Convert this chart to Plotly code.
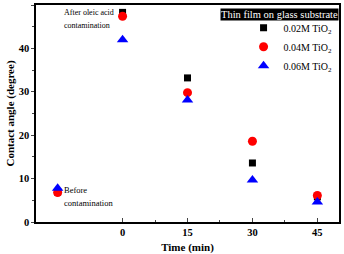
import plotly.graph_objects as go

x_vals = [-15, 0, 15, 30, 45]
s002 = [6.9, 48.3, 33.2, 13.6, 5.8]
s004 = [6.8, 47.4, 29.8, 18.6, 6.1]
s006 = [7.8, 42.0, 28.1, 9.7, 4.6]
names = ["0.02M TiO<sub>2</sub>", "0.04M TiO<sub>2</sub>", "0.06M TiO<sub>2</sub>"]
tick_vals = [0, 15, 30, 45]

FONT = "Liberation Serif, Times New Roman, serif"

fig = go.Figure()
fig.add_trace(go.Scatter(x=x_vals, y=s002, mode="markers", name=names[0],
                         marker=dict(symbol="square", color="black", size=7)))
fig.add_trace(go.Scatter(x=x_vals, y=s004, mode="markers", name=names[1],
                         marker=dict(symbol="circle", color="#ff0000", size=9)))
fig.add_trace(go.Scatter(x=x_vals, y=s006, mode="markers", name=names[2],
                         marker=dict(symbol="triangle-up", color="#0000ff", size=10)))

fig.update_layout(
    width=344, height=254,
    margin=dict(l=36, r=5, t=5, b=32, autoexpand=False),
    plot_bgcolor="white", paper_bgcolor="white",
    font=dict(family=FONT, size=10, color="black"),
    showlegend=True,
    legend=dict(x=0.685, y=0.962, xanchor="left", yanchor="top",
                bgcolor="rgba(0,0,0,0)", font=dict(family=FONT, size=10),
                itemsizing="trace", tracegroupgap=0, itemwidth=30),
)
fig.update_xaxes(range=[-20, 50], tickvals=tick_vals, ticks="inside", ticklen=4,
                 showline=True, linecolor="black", linewidth=1.5, mirror=True,
                 showgrid=False, zeroline=False,
                 tickfont=dict(family=FONT, size=10.5, weight="bold"),
                 minor=dict(tickvals=[7.5, 22.5, 37.5], ticks="inside", ticklen=2),
                 title=dict(text="<b>Time (min)</b>", font=dict(family=FONT, size=11), standoff=6))
fig.update_yaxes(range=[0, 50], dtick=10, ticks="outside", ticklen=3,
                 showline=True, linecolor="black", linewidth=1.5, mirror=True,
                 showgrid=False, zeroline=False,
                 tickfont=dict(family=FONT, size=10.5, weight="bold"),
                 minor=dict(dtick=5, ticks="outside", ticklen=2),
                 title=dict(text="<b>Contact angle (degree)</b>", font=dict(family=FONT, size=11), standoff=2))

fig.add_annotation(x=1, y=1, xref="paper", yref="paper", xanchor="right", yanchor="top",
                   text="Thin film on glass substrate", showarrow=False,
                   bgcolor="black", font=dict(color="white", family=FONT, size=10.5),
                   borderpad=0, xshift=0, yshift=-3)
fig.add_annotation(x=-14.0, y=48.3, xref="x", yref="y", xanchor="left", yanchor="middle",
                   text="After oleic acid", showarrow=False, font=dict(family=FONT, size=8))
fig.add_annotation(x=-14.0, y=45.2, xref="x", yref="y", xanchor="left", yanchor="middle",
                   text="contamination", showarrow=False, font=dict(family=FONT, size=8))
fig.add_annotation(x=-14.0, y=7.4, xref="x", yref="y", xanchor="left", yanchor="middle",
                   text="Before", showarrow=False, font=dict(family=FONT, size=8.5))
fig.add_annotation(x=-14.0, y=4.4, xref="x", yref="y", xanchor="left", yanchor="middle",
                   text="contamination", showarrow=False, font=dict(family=FONT, size=8.5))

fig.write_html("out.html")
